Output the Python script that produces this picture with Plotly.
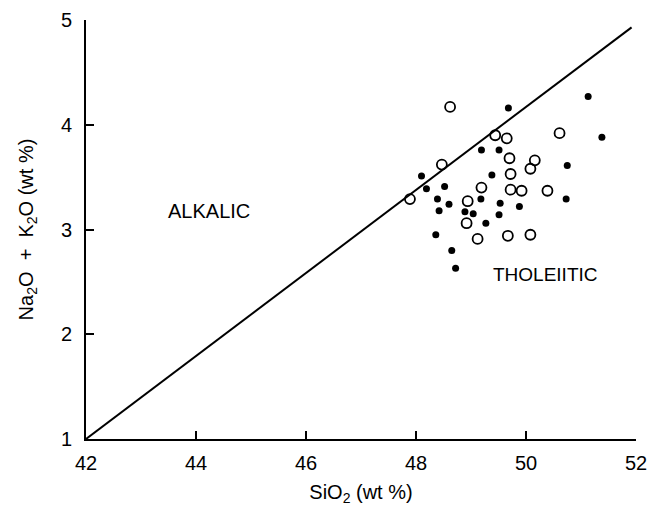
import plotly.graph_objects as go

# Data (SiO2 wt %, Na2O+K2O wt %)
open_x = [48.62, 49.44, 49.65, 50.61, 48.47, 49.70, 50.16, 50.08, 49.72, 47.89,
          49.19, 49.72, 49.92, 50.39, 48.94, 48.92, 49.12, 49.67, 50.08]
open_y = [4.17, 3.90, 3.87, 3.92, 3.62, 3.68, 3.66, 3.58, 3.53, 3.29,
          3.40, 3.38, 3.37, 3.37, 3.27, 3.06, 2.91, 2.94, 2.95]

filled_x = [51.13, 51.38, 49.68, 49.19, 49.51, 50.75, 48.10, 49.38, 48.19, 48.52,
            48.39, 48.60, 48.42, 49.18, 49.53, 49.88, 50.73, 48.89, 49.04, 49.51,
            49.27, 48.36, 48.65, 48.72]
filled_y = [4.27, 3.88, 4.16, 3.76, 3.76, 3.61, 3.51, 3.52, 3.39, 3.41,
            3.29, 3.24, 3.18, 3.29, 3.25, 3.22, 3.29, 3.17, 3.15, 3.14,
            3.06, 2.95, 2.80, 2.63]

# Alkalic / tholeiitic dividing line
line_x = [42.0, 51.92]
line_y = [1.0, 4.93]

x_ticks = [42, 44, 46, 48, 50, 52]
y_ticks = [1, 2, 3, 4, 5]

FONT = "Liberation Sans, Arial, Helvetica, sans-serif"

fig = go.Figure()
fig.add_trace(go.Scatter(x=line_x, y=line_y, mode="lines",
                         line=dict(color="black", width=2), hoverinfo="skip",
                         showlegend=False))
fig.add_trace(go.Scatter(x=open_x, y=open_y, mode="markers",
                         marker=dict(symbol="circle-open", size=10,
                                     color="black", line=dict(width=1.8)),
                         showlegend=False))
fig.add_trace(go.Scatter(x=filled_x, y=filled_y, mode="markers",
                         marker=dict(symbol="circle", size=7, color="black"),
                         showlegend=False))

fig.add_annotation(x=44.24, y=3.18, text="ALKALIC", showarrow=False,
                   font=dict(size=20, color="black", family=FONT))
fig.add_annotation(x=50.35, y=2.57, text="THOLEIITIC", showarrow=False,
                   font=dict(size=19, color="black", family=FONT))

fig.update_layout(
    width=663, height=513,
    margin=dict(l=78, r=35, t=12, b=82),
    paper_bgcolor="white", plot_bgcolor="white",
    font=dict(family=FONT, size=20, color="black"),
    xaxis=dict(range=[42, 52], tickvals=x_ticks, ticks="inside", ticklen=8,
               tickwidth=1.5, tickcolor="black", showline=True, linecolor="black",
               linewidth=2, showgrid=False, zeroline=False,
               ticklabelstandoff=5, ticklabeloverflow="allow",
               tickfont=dict(size=20, family=FONT), automargin=False,
               title=dict(text="SiO<sub>2</sub> (wt %)", standoff=12,
                          font=dict(size=20, family=FONT))),
    yaxis=dict(range=[1, 5], tickvals=y_ticks, ticks="inside", ticklen=8,
               tickwidth=1.5, tickcolor="black", showline=True, linecolor="black",
               linewidth=2, showgrid=False, zeroline=False,
               ticklabelstandoff=8, automargin=False, ticklabeloverflow="allow",
               tickfont=dict(size=20, family=FONT),
               title=dict(text="Na<sub>2</sub>O  +  K<sub>2</sub>O (wt %)",
                          standoff=22, font=dict(size=20, family=FONT))),
)

fig.write_html("out.html")
